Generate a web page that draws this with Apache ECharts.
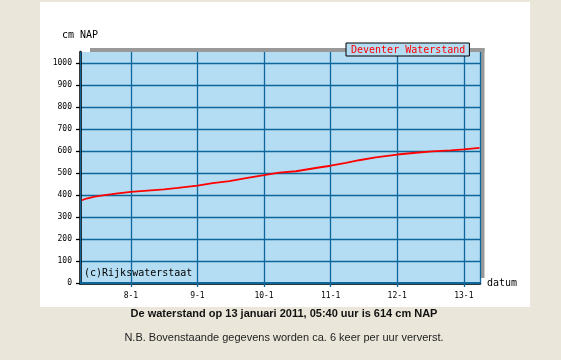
<!DOCTYPE html>
<html>
<head>
<meta charset="utf-8">
<script src="https://cdn.jsdelivr.net/npm/echarts@6/dist/echarts.min.js"></script>
<style>
html,body{margin:0;padding:0;background:#eae7da;}
#c{width:561px;height:360px;}
</style>
</head>
<body>
<div id="c"></div>
<script>
// Data (time, cm NAP)
const times = [
  '2011-01-07 06:20','2011-01-07 08:00','2011-01-07 11:00','2011-01-07 14:30','2011-01-07 19:20',
  '2011-01-08 00:00','2011-01-08 06:00','2011-01-08 12:00','2011-01-08 17:00',
  '2011-01-09 00:00','2011-01-09 05:30','2011-01-09 11:30','2011-01-09 17:30',
  '2011-01-10 00:00','2011-01-10 05:30','2011-01-10 11:30','2011-01-10 19:45',
  '2011-01-11 00:00','2011-01-11 05:30','2011-01-11 10:15','2011-01-11 16:15',
  '2011-01-12 00:00','2011-01-12 06:40','2011-01-12 12:40','2011-01-12 19:20',
  '2011-01-13 00:00','2011-01-13 05:40'
];
const levels = [
  376,384,393,399,407,
  414,420,426,432,
  443,454,463,477,
  490,502,508,525,
  533,546,558,571,
  584,592,598,603,
  607,614
];
const seriesName = 'Deventer Waterstand';
const yTicks = [0,100,200,300,400,500,600,700,800,900,1000];
const xStart = '2011-01-07 05:40';
const xEnd = '2011-01-13 05:50';
const headline = 'De waterstand op 13 januari 2011, 05:40 uur is 614 cm NAP';
const footnote = 'N.B. Bovenstaande gegevens worden ca. 6 keer per uur ververst.';

const parseT = s => { const [d,t]=s.split(' '); const [Y,M,D]=d.split('-').map(Number); const [h,m]=t.split(':').map(Number); return new Date(Y,M-1,D,h,m).getTime(); };
const data = times.map((t,i)=>[parseT(t), levels[i]]);

const mono = '"DejaVu Sans Mono", monospace';
const gridBlue = '#0d679c';
const chart = echarts.init(document.getElementById('c'), null, {renderer:'canvas'});
chart.setOption({
  animation:false,
  backgroundColor:'#eae7da',
  graphic:[
    {type:'rect', z:-10, shape:{x:40,y:2,width:490,height:305}, style:{fill:'#ffffff'}},
    {type:'rect', z:-5, shape:{x:90,y:48,width:394.5,height:4.5}, style:{fill:'#999999'}},
    {type:'rect', z:-5, shape:{x:480.5,y:48,width:4,height:230}, style:{fill:'#999999'}},
    {type:'text', z:50, left:84, top:268, style:{text:'(c)Rijkswaterstaat', font:'10px '+mono, fill:'#000'}},
    {type:'text', z:50, x:284, y:314, style:{text:headline, font:'bold 11px "Liberation Sans", Arial, sans-serif', fill:'#111', textAlign:'center', textVerticalAlign:'middle'}},
    {type:'text', z:50, x:284, y:338, style:{text:footnote, font:'11px "Liberation Sans", Arial, sans-serif', fill:'#222', textAlign:'center', textVerticalAlign:'middle'}}
  ],
  legend:{
    data:[{name:seriesName, icon:'none'}],
    left:346, top:43,
    itemWidth:0, itemHeight:0, itemGap:0,
    padding:[2,4,1,0],
    backgroundColor:'#b4dcf2', borderColor:'#000', borderWidth:1,
    textStyle:{color:'#ff0000', fontFamily:mono, fontSize:10}
  },
  grid:{left:80, right:81, top:52, bottom:77, show:true, backgroundColor:'#b4dcf2', borderWidth:0, containLabel:false},
  xAxis:[{
    type:'time', min:parseT(xStart), max:parseT(xEnd),
    minInterval:86400000, maxInterval:86400000,
    name:'datum', nameLocation:'end', nameGap:7,
    nameTextStyle:{fontFamily:mono, fontSize:10, color:'#000'},
    axisLine:{show:true, onZero:false, lineStyle:{color:'#000', width:2.5}},
    axisTick:{show:true, length:4, lineStyle:{color:gridBlue, width:1.3}},
    axisLabel:{fontFamily:mono, fontSize:8, color:'#000', margin:9, showMinLabel:false, showMaxLabel:false,
      formatter:function(v){const d=new Date(v); return d.getDate()+'-'+(d.getMonth()+1);}},
    splitLine:{show:true, lineStyle:{color:gridBlue, width:1.3}}
  },{
    type:'value', position:'top', min:0, max:1,
    axisLine:{show:true, lineStyle:{color:gridBlue, width:2}},
    axisTick:{show:false}, axisLabel:{show:false}, splitLine:{show:false}
  }],
  yAxis:[{
    type:'value', min:0, max:1050, interval:100,
    name:'cm NAP', nameLocation:'end', nameGap:12,
    nameTextStyle:{fontFamily:mono, fontSize:10, color:'#000', align:'center'},
    axisLine:{show:true, onZero:false, lineStyle:{color:'#000', width:2.5}},
    axisTick:{show:true, length:4, customValues:yTicks, lineStyle:{color:'#000', width:1.3}},
    axisLabel:{fontFamily:mono, fontSize:8, color:'#000', margin:8,
      customValues:yTicks, formatter:v=>String(v)},
    splitLine:{show:true, lineStyle:{color:gridBlue, width:1.3}}
  },{
    type:'value', position:'right', min:0, max:1,
    axisLine:{show:true, lineStyle:{color:gridBlue, width:1}},
    axisTick:{show:false}, axisLabel:{show:false}, splitLine:{show:false}
  }],
  series:[{
    name:seriesName, type:'line', data:data, showSymbol:false, symbol:'none',
    lineStyle:{color:'#ff0000', width:1.8}, itemStyle:{color:'#ff0000'}, z:10
  }]
});
</script>
</body>
</html>
